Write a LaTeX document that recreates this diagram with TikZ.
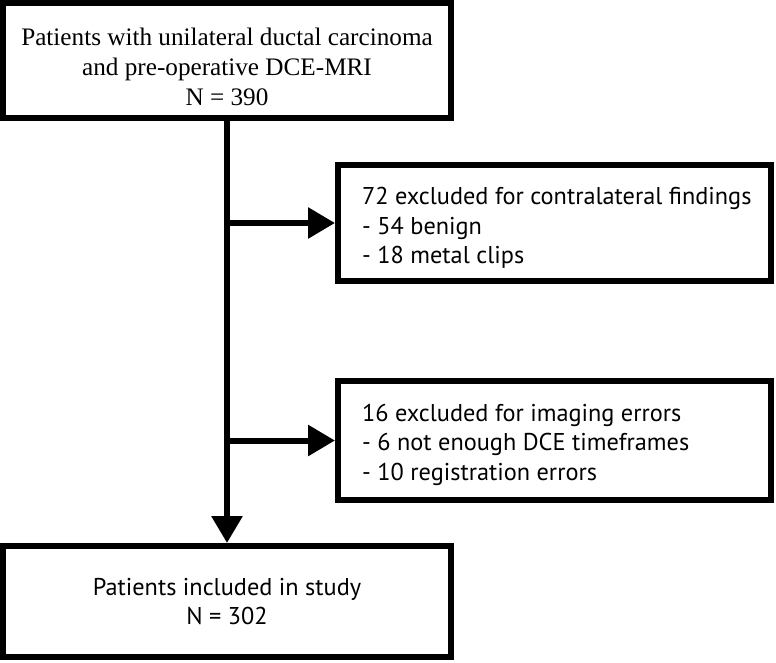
\documentclass[tikz,border=0pt]{standalone}
\usepackage{fontspec}
\setmainfont{Liberation Serif}
\newfontfamily\myriad{PT Sans}
\usetikzlibrary{arrows.meta}
\begin{document}
\begin{tikzpicture}[x=1pt,y=-1pt,
  box/.style={draw=black, line width=6pt, fill=white, rectangle, inner sep=0pt},
  arr/.style={line width=6pt, -{Triangle[length=27pt,width=30pt]}},
  serif/.style={font=\fontsize{25.2}{30}\selectfont, align=center, inner sep=0pt},
  sans/.style={font=\myriad\fontsize{24.3}{29.5}\selectfont, align=left, inner sep=0pt},
  sansc/.style={font=\myriad\fontsize{24.3}{29.5}\selectfont, align=center},
]
\useasboundingbox[fill=white] (0,0) rectangle (776,662);
% boxes
\node[box, minimum width=448pt, minimum height=115pt] (top) at (227,60.5) {};
\node[serif] (topt) at (227,66.5) {Patients with unilateral ductal carcinoma\\and pre-operative DCE-MRI\\N = 390};
\node[box, minimum width=433pt, minimum height=116pt] (ex1) at (554.5,223) {};
\node[sans, anchor=west] (ex1t) at (362,228) {72 excluded for contralateral findings\\- 54 benign\\- 18 metal clips};
\node[box, minimum width=433pt, minimum height=119pt] (ex2) at (554.5,440.5) {};
\node[sans, anchor=west] (ex2t) at (362,444.5) {16 excluded for imaging errors\\- 6 not enough DCE timeframes\\- 10 registration errors};
\node[box, sansc, minimum width=448pt, minimum height=111pt] (bot) at (227,601.5) {Patients included in study\\N = 302};
% connectors
\draw[arr] (top.south) -- (bot.north);
\draw[arr] (top.south |- ex1.west) -- (ex1.west);
\draw[arr] (top.south |- ex2.west) -- (ex2.west);
\end{tikzpicture}
\end{document}
